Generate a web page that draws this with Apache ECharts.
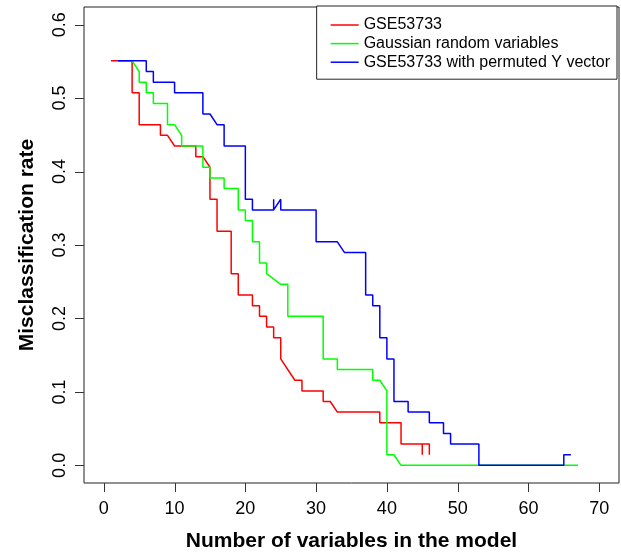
<!DOCTYPE html>
<html>
<head>
<meta charset="utf-8">
<script src="https://cdn.jsdelivr.net/npm/echarts@6/dist/echarts.min.js"></script>
<style>
  html, body { margin: 0; padding: 0; background: #fff; }
</style>
</head>
<body>
<div id="main" style="width: 621px; height: 557px"></div>
<script>
// number of variables / misclassification rate (k/69)
let redX = [1, 4, 4, 5, 5, 8, 8, 9, 10, 13, 13, 14, 15, 15, 16, 16, 18, 18, 19, 19, 21, 21, 22, 22, 23, 23, 24, 24, 25, 25, 27, 28, 28, 31, 31, 32, 33, 39, 39, 42, 42, 45, 45, 45, 46, 46];
let redY = [0.5507, 0.5507, 0.5072, 0.5072, 0.4638, 0.4638, 0.4493, 0.4493, 0.4348, 0.4348, 0.4203, 0.4203, 0.4058, 0.3623, 0.3623, 0.3188, 0.3188, 0.2609, 0.2609, 0.2319, 0.2319, 0.2174, 0.2174, 0.2029, 0.2029, 0.1884, 0.1884, 0.1739, 0.1739, 0.1449, 0.1159, 0.1159, 0.1014, 0.1014, 0.087, 0.087, 0.0725, 0.0725, 0.058, 0.058, 0.029, 0.029, 0.0145, 0.029, 0.029, 0.0145];

let greenX = [2, 4, 5, 5, 6, 6, 7, 7, 9, 9, 10, 11, 11, 14, 14, 15, 15, 17, 17, 19, 19, 20, 20, 21, 21, 22, 22, 23, 23, 25, 26, 26, 31, 31, 33, 33, 38, 38, 39, 40, 40, 40, 40, 41, 42, 67];
let greenY = [0.5507, 0.5507, 0.5362, 0.5217, 0.5217, 0.5072, 0.5072, 0.4928, 0.4928, 0.4638, 0.4638, 0.4493, 0.4348, 0.4348, 0.4058, 0.4058, 0.3913, 0.3913, 0.3768, 0.3768, 0.3478, 0.3478, 0.3333, 0.3333, 0.3043, 0.3043, 0.2754, 0.2754, 0.2609, 0.2464, 0.2464, 0.2029, 0.2029, 0.1449, 0.1449, 0.1304, 0.1304, 0.1159, 0.1159, 0.1014, 0.029, 0.0435, 0.0145, 0.0145, 0, 0];

let blueX = [2, 6, 6, 7, 7, 10, 10, 14, 14, 15, 16, 17, 17, 20, 20, 21, 21, 24, 24, 24, 25, 25, 30, 30, 33, 34, 37, 37, 38, 38, 39, 39, 40, 40, 41, 41, 43, 43, 46, 46, 48, 48, 49, 49, 53, 53, 65, 65, 66];
let blueY = [0.5507, 0.5507, 0.5362, 0.5362, 0.5217, 0.5217, 0.5072, 0.5072, 0.4783, 0.4783, 0.4638, 0.4638, 0.4348, 0.4348, 0.3623, 0.3623, 0.3478, 0.3478, 0.3623, 0.3478, 0.3623, 0.3478, 0.3478, 0.3043, 0.3043, 0.2899, 0.2899, 0.2319, 0.2319, 0.2174, 0.2174, 0.1739, 0.1739, 0.1449, 0.1449, 0.087, 0.087, 0.0725, 0.0725, 0.058, 0.058, 0.0435, 0.0435, 0.029, 0.029, 0, 0, 0.0145, 0.0145];

let seriesNames = ["GSE53733", "Gaussian random variables", "GSE53733 with permuted Y vector"];
let xTicks = [0, 10, 20, 30, 40, 50, 60, 70];
let yTicks = [0, 0.1, 0.2, 0.3, 0.4, 0.5, 0.6];

const font = "Liberation Sans, Arial, Helvetica, sans-serif";
const xRange = [-2.8, 72.8];
const yRange = [-0.024, 0.624];
const tickLen = 9;

function pairs(xs, ys) {
  let out = [];
  for (let i = 0; i < xs.length; i++) out.push([xs[i], ys[i]]);
  return out;
}

function lineSeries(name, color, xs, ys) {
  return {
    name: name,
    type: "line",
    symbol: "none",
    data: pairs(xs, ys),
    lineStyle: { color: color, width: 1.5 },
    itemStyle: { color: color },
    animation: false,
  };
}

// outward ticks on the box edge, placed through the axes with api.coord
function tickSeries(dim) {
  let data = dim === "x" ? xTicks.map((v) => [v, yRange[0]]) : yTicks.map((v) => [xRange[0], v]);
  return {
    type: "custom",
    silent: true,
    clip: false,
    animation: false,
    z: 5,
    data: data,
    renderItem: function (params, api) {
      let p = api.coord([api.value(0), api.value(1)]);
      let shape;
      if (dim === "x") {
        let x = Math.round(p[0]) + 0.5;
        shape = { x1: x, y1: p[1], x2: x, y2: p[1] + tickLen };
      } else {
        let y = Math.round(p[1]) + 0.5;
        shape = { x1: p[0] - tickLen, y1: y, x2: p[0], y2: y };
      }
      return { type: "line", shape: shape, style: { stroke: "#333", lineWidth: 1 } };
    },
  };
}

let option = {
  backgroundColor: "#fff",
  textStyle: { fontFamily: font },
  grid: {
    left: 84,
    top: 7,
    width: 535,
    height: 479,
    show: true,
    borderColor: "#222",
    borderWidth: 1,
  },
  legend: {
    data: seriesNames,
    right: 4,
    top: 6,
    orient: "vertical",
    icon: "rect",
    backgroundColor: "#fff",
    borderColor: "#222",
    borderWidth: 1,
    borderRadius: 0,
    padding: [11, 7, 9, 14],
    itemWidth: 28,
    itemHeight: 1.5,
    itemGap: 2.6,
    textStyle: { fontSize: 16, lineHeight: 16, color: "#000", fontFamily: font },
  },
  xAxis: {
    type: "value",
    min: xRange[0],
    max: xRange[1],
    name: "Number of variables in the model",
    nameLocation: "middle",
    nameGap: 48,
    nameTextStyle: { fontSize: 21, fontWeight: "bold", color: "#000", fontFamily: font },
    axisLine: { show: false, onZero: false },
    splitLine: { show: false },
    axisTick: { show: false },
    axisLabel: { customValues: xTicks, margin: 17, fontSize: 18, color: "#000", fontFamily: font },
  },
  yAxis: {
    type: "value",
    min: yRange[0],
    max: yRange[1],
    name: "Misclassification rate",
    nameLocation: "middle",
    nameGap: 46,
    nameTextStyle: { fontSize: 21, fontWeight: "bold", color: "#000", fontFamily: font },
    axisLine: { show: false, onZero: false },
    splitLine: { show: false },
    axisTick: { show: false },
    axisLabel: {
      customValues: yTicks,
      rotate: 90,
      margin: 15,
      fontSize: 18,
      color: "#000",
      fontFamily: font,
      formatter: (v) => v.toFixed(1),
    },
  },
  series: [
    lineSeries(seriesNames[0], "#ff0000", redX, redY),
    lineSeries(seriesNames[1], "#00ff00", greenX, greenY),
    lineSeries(seriesNames[2], "#0000ff", blueX, blueY),
    tickSeries("x"),
    tickSeries("y"),
  ],
};

var myChart = echarts.init(document.getElementById("main"), null, { renderer: "canvas" });
option && myChart.setOption(option);
</script>
</body>
</html>
